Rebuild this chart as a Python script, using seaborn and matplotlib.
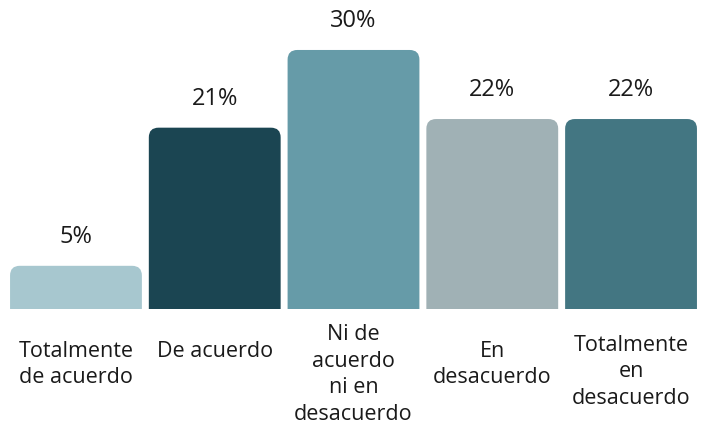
import matplotlib
matplotlib.use("Agg")
import matplotlib.pyplot as plt
import seaborn as sns
import pandas as pd
from matplotlib.patches import FancyBboxPatch

# data
categories = ["Totalmente\nde acuerdo", "De acuerdo", "Ni de\nacuerdo\nni en\ndesacuerdo",
              "En\ndesacuerdo", "Totalmente\nen\ndesacuerdo"]
values = [5, 21, 30, 22, 22]
colors = ["#A7C7CF", "#1B4552", "#669BA8", "#A0B1B5", "#437682"]
label_y = [-0.105, -0.105, -0.05, -0.105, -0.085]  # axes fraction for top of category text

sns.set_theme(style="white")
plt.rcParams['font.family'] = ['Open Sans', 'DejaVu Sans']

df = pd.DataFrame({"cat": categories, "val": values})

fig = plt.figure(figsize=(7.08, 4.25), dpi=100)
ax = fig.add_axes([0.0093, 0.273, 0.98, 0.711])
sns.barplot(data=df, x="cat", y="val", hue="cat", palette=colors, width=0.95,
            legend=False, ax=ax, saturation=1)

# swap plain bars for rounded-top ones
for p in list(ax.patches):
    x, w, h = p.get_x(), p.get_width(), p.get_height()
    fc = p.get_facecolor()
    p.remove()
    r = FancyBboxPatch((x, -3), w, h + 3, boxstyle="round,pad=0,rounding_size=0.07",
                       mutation_aspect=16, facecolor=fc, edgecolor="none")
    ax.add_patch(r)
    ax.annotate(f"{h:.0f}%", (x + w / 2, h), xytext=(0, 21), textcoords="offset points",
                ha="center", va="center", fontsize=17, color="#1a1a1a")

ax.set_xlim(-0.5, 4.5)
ax.set_ylim(0, 35)
ax.set_xticks([])
ax.set_yticks([])
ax.set_xlabel("")
ax.set_ylabel("")
sns.despine(ax=ax, left=True, bottom=True)

for i, (c, ly) in enumerate(zip(categories, label_y)):
    ax.text(i, ly, c, transform=ax.get_xaxis_transform(), ha="center", va="top",
            fontsize=15.5, color="#1a1a1a", linespacing=1.35)

fig.savefig("out.png", dpi=100)
